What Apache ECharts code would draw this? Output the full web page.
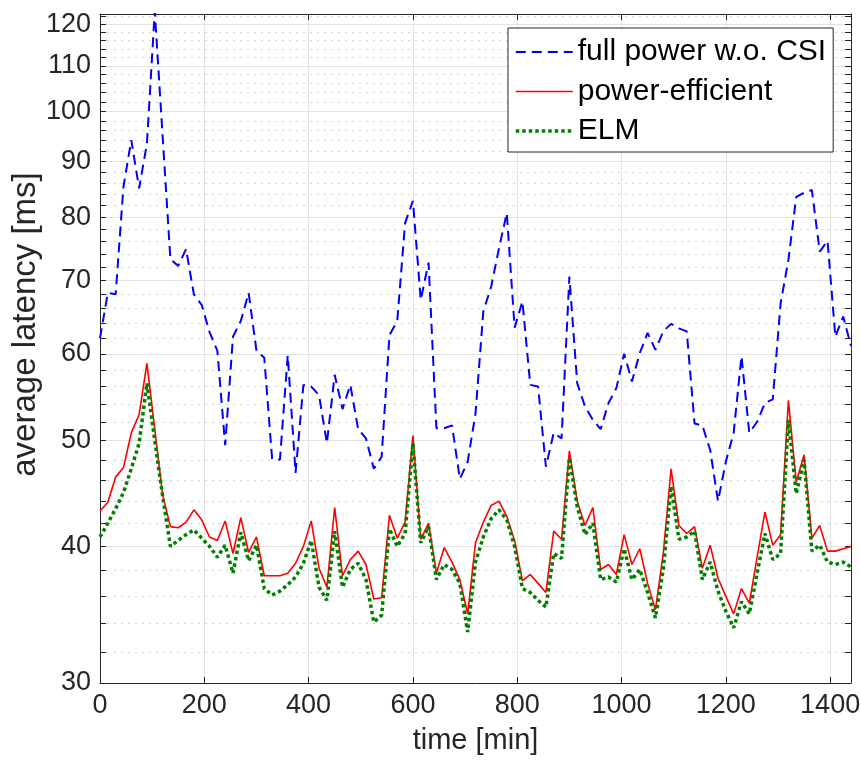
<!DOCTYPE html>
<html><head><meta charset="utf-8">
<script src="https://cdn.jsdelivr.net/npm/echarts@6/dist/echarts.min.js"></script>
<style>html,body{margin:0;padding:0;background:#fff}#c{width:861px;height:762px}</style>
</head><body><div id="c"></div>
<script>
const timeMin = [0,15,30,45,60,75,90,105,120,135,150,165,180,195,210,225,240,255,270,285,300,315,330,345,360,375,390,405,420,435,450,465,480,495,510,525,540,555,570,585,600,615,630,645,660,675,690,705,720,735,750,765,780,795,810,825,840,855,870,885,900,915,930,945,960,975,990,1005,1020,1035,1050,1065,1080,1095,1110,1125,1140,1155,1170,1185,1200,1215,1230,1245,1260,1275,1290,1305,1320,1335,1350,1365,1380,1395,1410,1425,1440];
const fullPower = [62.0,68.2,68.0,85.3,94.1,85.0,93.4,123.5,95.0,73.2,72.2,74.8,68.0,66.5,62.8,60.4,49.5,62.2,64.3,68.2,60.4,59.5,48.1,48.0,59.8,46.7,56.2,56.0,55.0,49.7,57.4,53.4,56.2,51.2,50.2,47.1,48.3,62.4,64.3,79.0,82.8,67.2,72.7,51.3,51.3,51.6,46.1,47.8,52.9,65.6,69.1,74.9,80.7,63.4,67.0,56.2,56.0,47.3,50.8,50.2,70.6,56.4,53.7,52.2,51.2,54.1,55.8,60.0,56.6,60.1,62.7,60.5,62.9,63.9,63.3,62.9,51.8,51.6,49.0,44.0,47.8,50.8,59.7,50.8,52.0,54.1,54.5,66.7,73.1,83.5,84.2,84.7,74.4,76.1,62.2,64.9,61.0];
const powerEfficient = [43.1,43.9,46.3,47.2,50.8,52.8,58.8,51.2,44.6,41.7,41.6,42.1,43.2,42.3,40.8,40.5,42.2,39.4,42.5,39.5,40.8,37.6,37.6,37.6,37.8,38.6,40.0,42.2,38.2,36.7,43.4,37.6,38.9,39.6,38.5,35.8,35.9,42.7,40.7,42.1,50.5,40.6,42.0,37.8,39.9,38.7,37.3,34.7,40.3,42.1,43.6,44.0,42.6,40.5,37.2,37.7,37.0,36.3,41.3,40.6,48.9,44.0,41.8,43.4,38.1,38.5,37.7,41.0,38.5,39.8,37.0,35.0,39.4,47.1,41.8,41.1,41.7,38.2,40.1,37.4,36.0,34.7,36.6,35.5,39.1,43.0,40.1,41.0,54.4,45.8,48.5,40.7,41.8,39.6,39.6,39.8,40.0];
const elm = [40.8,42.0,43.3,44.8,47.1,49.7,56.4,50.0,44.5,40.0,40.5,41.0,41.4,40.7,40.0,39.1,40.1,37.8,41.2,38.8,40.1,36.6,36.1,36.4,36.9,37.5,38.6,40.5,36.7,35.7,41.3,36.7,38.1,38.6,37.3,34.1,34.6,41.5,40.0,41.1,49.7,40.3,41.7,37.3,38.5,38.1,37.0,33.4,38.7,40.8,42.4,43.2,42.3,40.0,36.6,36.3,35.7,35.2,39.4,39.0,48.2,43.5,41.0,42.0,37.3,37.5,37.1,39.8,37.3,38.1,36.3,34.4,38.1,45.4,40.6,40.8,41.3,37.3,38.7,36.4,34.9,33.7,35.6,34.7,37.8,41.1,38.9,39.4,52.2,44.7,48.0,39.6,40.1,38.7,38.5,38.7,38.3];
const seriesNames = ['full power w.o. CSI','power-efficient','ELM'];
const xTicks = [0,200,400,600,800,1000,1200,1400];
const yMajorTicks = [30,40,50,60,70,80,90,100,110,120];
const yMinorTicks = [32,34,36,38,42,44,46,48,52,54,56,58,62,64,66,68,72,74,76,78,82,84,86,88,92,94,96,98,102,104,106,108,112,114,116,118,122];
const yAllTicks = yMajorTicks.concat(yMinorTicks).sort((a,b)=>a-b);

const sans = "'Liberation Sans',Arial,Helvetica,sans-serif";
const axisColor = '#262626';
const X_MIN = 0, X_MAX = 1440, Y_MIN = 30, Y_MAX = 122.7;
const plain = v => String(v);

function pairs(ys){ return timeMin.map((t,i)=>[t, ys[i]]); }

const chart = echarts.init(document.getElementById('c'), null, {renderer:'canvas'});

function xAx(pos, labels){
  return {type:'value', min:X_MIN, max:X_MAX, position:pos,
    axisLine:{show:true, onZero:false, lineStyle:{color:axisColor, width:1}},
    axisTick:{show:true, inside:true, length:6, customValues:xTicks, lineStyle:{color:axisColor, width:1}},
    axisLabel:{show:labels, customValues:xTicks, formatter:plain, margin:9, color:axisColor, fontSize:27, fontFamily:sans},
    splitLine:{show:labels, lineStyle:{color:'#e3e3e3', width:1}},
    name: labels ? 'time [min]' : '', nameLocation:'middle', nameGap:43,
    nameTextStyle:{fontSize:29, fontFamily:sans, color:axisColor}
  };
}
function yAx(pos, opts){
  return Object.assign({type:'log', logBase:10, min:Y_MIN, max:Y_MAX, position:pos,
    axisLine:{show:false, onZero:false}, axisTick:{show:false}, axisLabel:{show:false}, splitLine:{show:false}}, opts);
}
const noSymbol = {color:'rgba(0,0,0,0)', borderColor:'rgba(0,0,0,0)', borderWidth:0, opacity:0};

const option = {
  animation:false,
  backgroundColor:'#fff',
  grid:{left:100, right:10, top:14, bottom:79, containLabel:false, outerBoundsMode:'none'},
  xAxis:[ xAx('bottom', true), xAx('top', false) ],
  yAxis:[
    yAx('left', {
      axisLine:{show:true, onZero:false, lineStyle:{color:axisColor, width:1}},
      axisTick:{show:true, inside:true, length:6, customValues:yAllTicks, lineStyle:{color:axisColor, width:1}},
      axisLabel:{show:true, customValues:yMajorTicks, formatter:plain, margin:9, color:axisColor, fontSize:27, fontFamily:sans},
      name:'average latency [ms]', nameLocation:'middle', nameRotate:90, nameGap:58, nameMoveOverlap:false,
      nameTextStyle:{fontSize:33, fontFamily:sans, color:axisColor, padding:[0,0,0,48]}
    }),
    yAx('right', {
      axisLine:{show:true, onZero:false, lineStyle:{color:axisColor, width:1}},
      axisTick:{show:true, inside:true, length:6, customValues:yAllTicks, lineStyle:{color:axisColor, width:1}}
    }),
    yAx('left', {
      axisTick:{show:false, customValues:yMajorTicks},
      splitLine:{show:true, lineStyle:{color:'#e3e3e3', width:1}}
    }),
    yAx('left', {
      axisTick:{show:false, customValues:yMinorTicks},
      splitLine:{show:true, lineStyle:{color:'#d2d2d2', width:1, type:[2,5]}}
    })
  ],
  legend:{
    orient:'vertical', left:508, top:28,
    padding:[9,7,6,6], itemGap:9.5, itemWidth:57, itemHeight:14,
    backgroundColor:'#fff', borderColor:axisColor, borderWidth:1, borderRadius:0,
    textStyle:{fontSize:30, fontFamily:sans, color:'#000', lineHeight:30},
    data:[
      {name:seriesNames[0], itemStyle:noSymbol, lineStyle:{color:'#0000ff', width:2, type:[10,6]}},
      {name:seriesNames[1], itemStyle:noSymbol, lineStyle:{color:'#ff0000', width:1.6, type:'solid'}},
      {name:seriesNames[2], itemStyle:noSymbol, lineStyle:{color:'#008000', width:3.5, type:[3.5,3]}}
    ]
  },
  series:[
    {name:seriesNames[0], type:'line', data:pairs(fullPower), xAxisIndex:0, yAxisIndex:0, symbol:'none', clip:true,
     lineStyle:{color:'#0000ff', width:2, type:[10,6]}, itemStyle:{color:'#0000ff'}, z:3},
    {name:seriesNames[1], type:'line', data:pairs(powerEfficient), xAxisIndex:0, yAxisIndex:0, symbol:'none', clip:true,
     lineStyle:{color:'#ff0000', width:1.6, type:'solid'}, itemStyle:{color:'#ff0000'}, z:4},
    {name:seriesNames[2], type:'line', data:pairs(elm), xAxisIndex:0, yAxisIndex:0, symbol:'none', clip:true,
     lineStyle:{color:'#008000', width:3.5, type:[3.5,3], cap:'butt'}, itemStyle:{color:'#008000'}, z:5}
  ]
};
chart.setOption(option);
</script>
</body></html>
